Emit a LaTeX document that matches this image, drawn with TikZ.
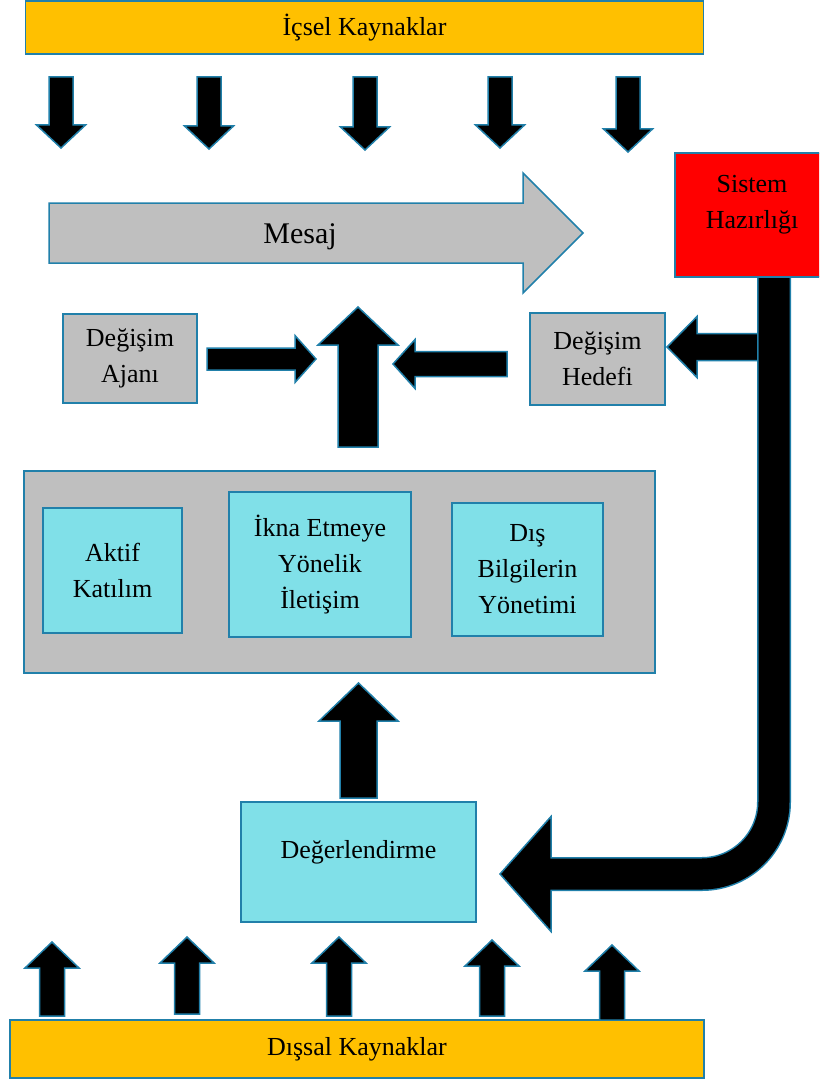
\documentclass[tikz,border=0pt]{standalone}
\usepackage{fontspec}
\setmainfont{Liberation Serif}

\definecolor{edgeblue}{RGB}{33,128,170}
\definecolor{srcgold}{RGB}{255,192,0}
\definecolor{boxgray}{RGB}{191,191,191}
\definecolor{evalcyan}{RGB}{128,224,232}
\definecolor{sysred}{RGB}{255,0,0}

\tikzset{
  box/.style={draw=edgeblue, line width=0.75pt, align=center, inner sep=0pt,
    font=\fontsize{13}{18}\selectfont},
  srcbar/.style={box, fill=srcgold},
  graybox/.style={box, fill=boxgray},
  cyanbox/.style={box, fill=evalcyan},
  blk/.style={fill=black, draw=edgeblue, line width=0.75pt},
  msgarrow/.style={fill=boxgray, draw=edgeblue, line width=0.75pt},
  % block arrow: length, shaft half width, head half width, head length
  pics/barrow/.style n args={4}{code={
    \path[pic actions] (0,-#2) -- ({#1-#4},-#2) -- ({#1-#4},-#3) -- (#1,0)
      -- ({#1-#4},#3) -- ({#1-#4},#2) -- (0,#2) -- cycle;
  }},
}

\begin{document}
\begin{tikzpicture}[x=0.5pt, y=-0.5pt]
\useasboundingbox (0,0) rectangle (819,1081);
\clip (0,0) rectangle (819,1081);

% sources
\node[srcbar, minimum width=339pt, minimum height=26.5pt] (insrc) at (364.5,27.5) {İçsel Kaynaklar};
\node[srcbar, minimum width=347pt, minimum height=29pt] (outsrc) at (357,1049) {Dışsal Kaynaklar};
\foreach \x/\l in {61/71, 209/72, 365/73, 500/71, 628/75}
  \pic[blk, rotate=-90] at (\x,77) {barrow={\l}{12}{24.5}{23}};
\foreach \x/\y/\l in {52/1016/74, 187/1014/77, 339/1016/79, 492/1016/76, 612/1020/75}
  \pic[blk, rotate=90] at (\x,\y) {barrow={\l}{12.5}{27}{26}};

% message
\pic[msgarrow] at (49,233) {barrow={534}{30}{60}{60}};
\node[font=\fontsize{15}{18}\selectfont] (msg) at (300,237) {Mesaj};

% system readiness
\node[box, fill=sysred, minimum width=77pt, minimum height=62pt] (sys) at (752,215) {};
\node[box, draw=none] (systxt) at (752,204.5) {Sistem\\Hazırlığı};

% agent and target
\node[graybox, minimum width=67pt, minimum height=44.5pt] (aja) at (130,358.5) {Değişim\\Ajanı};
\node[graybox, minimum width=67.5pt, minimum height=46pt] (hed) at (597.5,359) {Değişim\\Hedefi};
\pic[blk] at (207,359) {barrow={109}{11}{23.5}{21}};
\pic[blk, rotate=180] at (507,364) {barrow={114}{12.5}{24.5}{22}};
\pic[blk, rotate=90] at (358,447) {barrow={140}{20}{40}{38}};

% communication group
\node[graybox, minimum width=315.5pt, minimum height=101pt] (grp) at (339.5,572) {};
\node[cyanbox, minimum width=69.5pt, minimum height=62.5pt] (akt) at (112.5,570.5) {Aktif\\Katılım};
\node[cyanbox, minimum width=91pt, minimum height=72.5pt] (ikna) at (320,564.5) {İkna Etmeye\\Yönelik\\İletişim};
\node[cyanbox, minimum width=75.5pt, minimum height=66.5pt] (dis) at (527.5,569.5) {Dış\\Bilgilerin\\Yönetimi};

% evaluation
\node[cyanbox, minimum width=117.5pt, minimum height=60pt] (deg) at (358.5,862) {};
\node[box, draw=none] (degtxt) at (358.5,852) {Değerlendirme};
\pic[blk, rotate=90] at (358.5,798) {barrow={115}{18.5}{39.5}{38}};

% feedback band
\pic[blk, rotate=180] at (760,347) {barrow={93}{13.5}{30.5}{30}};
\draw[edgeblue, line width=17pt, rounded corners=36pt] (774,277) -- (774,874) -- (551,874);
\pic[blk, rotate=180] at (551,874) {barrow={51}{16}{57.5}{51}};
\draw[black, line width=15.5pt, rounded corners=36pt] (774,278) -- (774,874) -- (546,874);
\end{tikzpicture}
\end{document}
